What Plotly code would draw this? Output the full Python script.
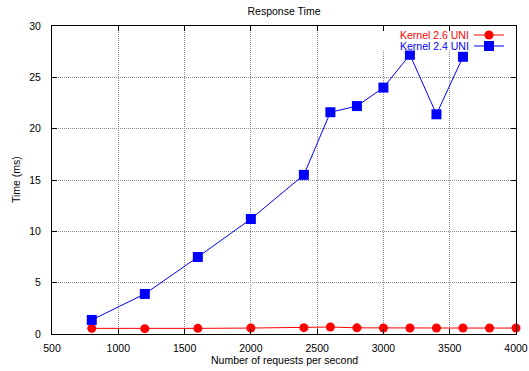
import plotly.graph_objects as go

# Request rates (requests per second)
rate_26 = [800, 1200, 1600, 2000, 2400, 2600, 2800, 3000, 3200, 3400, 3600, 3800, 4000]
time_26 = [0.55, 0.52, 0.55, 0.58, 0.62, 0.68, 0.60, 0.58, 0.58, 0.58, 0.58, 0.58, 0.58]

rate_24 = [800, 1200, 1600, 2000, 2400, 2600, 2800, 3000, 3200, 3400, 3600]
time_24 = [1.37, 3.9, 7.5, 11.2, 15.5, 21.6, 22.2, 24.0, 27.2, 21.4, 27.0]

x_ticks = [500, 1000, 1500, 2000, 2500, 3000, 3500, 4000]
y_ticks = [0, 5, 10, 15, 20, 25, 30]

RED = "#ff0000"
BLUE = "#0000ff"
FONT = "Liberation Sans, Arial, sans-serif"
FS = 10.5

W, H = 529, 371
L, R, T, B = 52, 13, 26, 37
PW, PH = W - L - R, H - T - B


def px(x):
    return (x - L) / PW


def py(y):
    return (H - B - y) / PH


fig = go.Figure()
fig.add_trace(go.Scatter(
    x=rate_26, y=time_26, mode="lines+markers", name="Kernel 2.6 UNI",
    line=dict(color=RED, width=1),
    marker=dict(symbol="circle", size=9, color=RED),
    cliponaxis=False, showlegend=False,
))
fig.add_trace(go.Scatter(
    x=rate_24, y=time_24, mode="lines+markers", name="Kernel 2.4 UNI",
    line=dict(color=BLUE, width=1),
    marker=dict(symbol="square", size=10, color=BLUE),
    cliponaxis=False, showlegend=False,
))

shapes = []
annotations = []

# key background covering the grid (below the mirrored top ticks)
shapes.append(dict(type="rect", xref="paper", yref="paper", layer="above",
                   x0=px(378), x1=px(515), y0=py(50.5), y1=py(31.5),
                   fillcolor="white", line=dict(width=0)))

key = [("Kernel 2.6 UNI", RED, 35, "circle"), ("Kernel 2.4 UNI", BLUE, 46, "square")]
for label, color, yy, sym in key:
    annotations.append(dict(x=px(471), y=py(yy), xref="paper", yref="paper",
                            text=label, showarrow=False, xanchor="right", yanchor="middle",
                            font=dict(family=FONT, size=FS, color=color)))
    shapes.append(dict(type="line", xref="paper", yref="paper", layer="above",
                       x0=px(474), x1=px(504), y0=py(yy), y1=py(yy),
                       line=dict(color=color, width=1)))
    half = 4.5 if sym == "circle" else 5
    shapes.append(dict(type="circle" if sym == "circle" else "rect",
                       xref="paper", yref="paper", layer="above",
                       xsizemode="pixel", ysizemode="pixel",
                       xanchor=px(489), yanchor=py(yy),
                       x0=-half, x1=half, y0=-half, y1=half,
                       fillcolor=color, line=dict(width=0)))

annotations.append(dict(x=px(284), y=py(360), xref="paper", yref="paper",
                        text="Number of requests per second", showarrow=False,
                        xanchor="center", yanchor="middle",
                        font=dict(family=FONT, size=FS, color="black")))
annotations.append(dict(x=px(16), y=py(180), xref="paper", yref="paper",
                        text="Time (ms)", showarrow=False, textangle=-90,
                        xanchor="center", yanchor="middle",
                        font=dict(family=FONT, size=FS, color="black")))

axis_common = dict(
    showline=True, linecolor="black", linewidth=1, mirror="allticks",
    ticks="inside", ticklen=5, tickcolor="black", tickwidth=1,
    showgrid=True, gridcolor="#8c8c8c", griddash="1px,1px", gridwidth=1,
    zeroline=False, automargin=False,
    tickfont=dict(family=FONT, size=FS, color="black"),
)

fig.update_layout(
    width=W, height=H,
    margin=dict(l=L, r=R, t=T, b=B, pad=0, autoexpand=False),
    paper_bgcolor="white", plot_bgcolor="white",
    title=dict(text="Response Time", x=284 / W, xanchor="center",
               y=1 - 11 / H, yanchor="middle",
               font=dict(family=FONT, size=FS, color="black")),
    xaxis=dict(range=[500, 4000], tickvals=x_ticks, ticklabelstandoff=4, **axis_common),
    yaxis=dict(range=[0, 30], tickvals=y_ticks, ticklabelstandoff=8, **axis_common),
    shapes=shapes, annotations=annotations, showlegend=False,
)

fig.write_html("out.html")
